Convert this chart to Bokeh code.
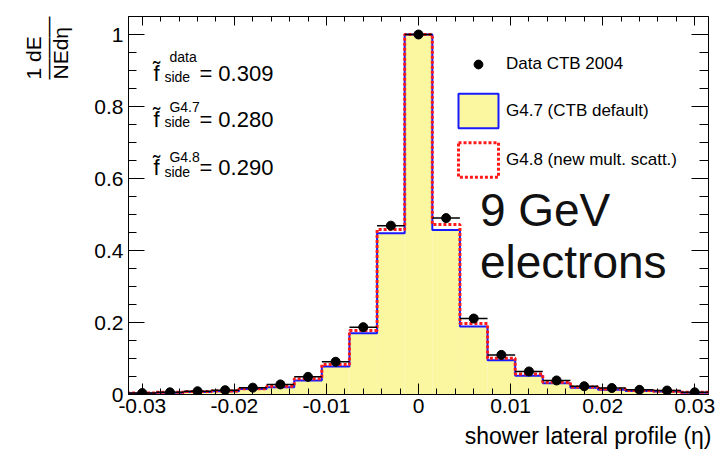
import numpy as np
from bokeh.plotting import figure
from bokeh.models import (Range1d, LinearAxis, FixedTicker, Label, Legend,
                          LegendItem, Title)
from bokeh.embed import file_html
from bokeh.resources import INLINE

# ---------------- data ----------------
bin_centers = [-0.030, -0.027, -0.024, -0.021, -0.018, -0.015, -0.012, -0.009,
               -0.006, -0.003, 0.000, 0.003, 0.006, 0.009, 0.012, 0.015,
               0.018, 0.021, 0.024, 0.027, 0.030]
bin_width = 0.003
data_ctb = [0.004, 0.006, 0.009, 0.012, 0.019, 0.028, 0.049, 0.091, 0.187,
            0.469, 1.000, 0.490, 0.211, 0.110, 0.064, 0.039, 0.023, 0.018,
            0.013, 0.011, 0.006]
g4_7 = [0.003, 0.005, 0.007, 0.009, 0.015, 0.020, 0.039, 0.078, 0.170,
        0.448, 1.000, 0.457, 0.189, 0.095, 0.052, 0.031, 0.019, 0.013,
        0.010, 0.008, 0.005]
g4_8 = [0.004, 0.006, 0.008, 0.010, 0.016, 0.023, 0.044, 0.083, 0.178,
        0.458, 1.000, 0.472, 0.197, 0.101, 0.057, 0.034, 0.021, 0.015,
        0.011, 0.009, 0.006]
x_ticks = [-0.03, -0.02, -0.01, 0.0, 0.01, 0.02, 0.03]
x_tick_labels = ["-0.03", "-0.02", "-0.01", "0", "0.01", "0.02", "0.03"]
y_ticks = [0.0, 0.2, 0.4, 0.6, 0.8, 1.0]
y_tick_labels = ["0", "0.2", "0.4", "0.6", "0.8", "1"]
f_side_tags = ["data", "G4.7", "G4.8"]
f_side_values = [0.309, 0.280, 0.290]
legend_labels = ["Data CTB 2004", "G4.7 (CTB default)", "G4.8 (new mult. scatt.)"]

# ---------------- geometry helpers ----------------
W, H = 718, 455
X0, X1 = -0.0315, 0.0315
Y0, Y1 = 0.0, 1.05
FL, FR, FT, FB = 127, 708, 16, 394   # frame in canvas px


def dx(px):
    return X0 + (px - FL) / (FR - FL) * (X1 - X0)


def dy(py):
    return Y0 + (FB - py) / (FB - FT) * (Y1 - Y0)


def base(py, fs):
    # baseline correction for Bokeh's label text placement
    return dy(py - 0.34 * fs)


centers = np.array(bin_centers)
edges = np.append(centers - bin_width / 2, centers[-1] + bin_width / 2)


def step_xy(vals):
    xs, ys = [edges[0]], [0.0]
    for i, v in enumerate(vals):
        xs += [edges[i], edges[i + 1]]
        ys += [v, v]
    xs.append(edges[-1])
    ys.append(0.0)
    return xs, ys


FONT = "Liberation Sans"
YELLOW = "#fbf7a1"
BLUE = "#1a1aff"
RED = "#ff1a1a"

p = figure(width=W, height=H, x_range=Range1d(X0, X1), y_range=Range1d(Y0, Y1),
           output_backend="svg", toolbar_location=None,
           min_border_left=FL, min_border_right=W - FR, min_border_top=FT,
           min_border_bottom=H - FB)
p.xgrid.visible = False
p.ygrid.visible = False
p.outline_line_color = "black"
p.outline_line_width = 1
p.background_fill_color = "white"
p.border_fill_color = "white"

bax = p.below[0]
lax = p.left[0]

x_minor = list(np.round(np.arange(-0.030, 0.0301, 0.002), 4))
y_minor = list(np.round(np.arange(0.0, 1.051, 0.05), 3))

for ax, ticks, minors, mj, mn in [(bax, x_ticks, x_minor, 11, 6),
                                  (lax, y_ticks, y_minor, 16, 8)]:
    ax.ticker = FixedTicker(ticks=ticks, minor_ticks=minors)
    ax.major_tick_in = mj
    ax.major_tick_out = 0
    ax.minor_tick_in = mn
    ax.minor_tick_out = 0
    ax.axis_line_color = "black"
    ax.major_tick_line_color = "black"
    ax.minor_tick_line_color = "black"
    ax.major_label_text_font = FONT
    ax.major_label_text_color = "black"
    ax.major_label_text_font_size = "21px"

bax.major_label_overrides = {t: s for t, s in zip(x_ticks, x_tick_labels)}
lax.major_label_overrides = {t: s for t, s in zip(y_ticks, y_tick_labels)}
bax.major_label_standoff = 4
lax.major_label_standoff = 5

# tick marks on the top and right sides (no labels)
for side, tick_list, length in [("above", x_minor, 5), ("above", x_ticks, 9),
                                ("right", y_minor, 9), ("right", y_ticks, 17)]:
    ax = LinearAxis(ticker=FixedTicker(ticks=[], minor_ticks=tick_list))
    ax.minor_tick_in = length
    ax.minor_tick_out = 0
    ax.minor_tick_line_color = "black"
    ax.major_tick_line_color = None
    ax.axis_line_color = None
    ax.major_label_standoff = 0
    p.add_layout(ax, side)

# ---------------- histograms ----------------
p.quad(left=edges[:-1], right=edges[1:], bottom=0, top=g4_7,
       fill_color=YELLOW, line_color=None)
xs47, ys47 = step_xy(g4_7)
p.line(xs47, ys47, line_color=BLUE, line_width=2)
xs48, ys48 = step_xy(g4_8)
p.line(xs48, ys48, line_color=RED, line_width=3, line_dash="3 2")

# data points with bin-width error bars
p.segment(x0=centers - bin_width / 2, x1=centers + bin_width / 2,
          y0=data_ctb, y1=data_ctb, line_color="black", line_width=1.5)
r_pts = p.scatter(centers, data_ctb, size=9, color="black")

# legend proxies (hidden renderers carrying the same histograms)
r_leg47 = p.quad(left=edges[:-1], right=edges[1:], bottom=0, top=g4_7,
                 fill_color=YELLOW, line_color=BLUE, line_width=2, visible=False)
r_leg48 = p.quad(left=edges[:-1], right=edges[1:], bottom=0, top=g4_8,
                 fill_alpha=0, line_color=RED, line_width=3, line_dash="3 2",
                 visible=False)

leg_common = dict(label_standoff=3, padding=0, margin=0, spacing=6,
                  border_line_alpha=0, background_fill_alpha=0,
                  label_text_font=FONT, label_text_font_size="17px",
                  label_text_color="black", glyph_width=50)
leg_a = Legend(items=[LegendItem(label=legend_labels[0], renderers=[r_pts])],
               location=(325, 319), glyph_height=22, **leg_common)
leg_b = Legend(items=[LegendItem(label=legend_labels[1], renderers=[r_leg47]),
                      LegendItem(label=legend_labels[2], renderers=[r_leg48])],
               location=(325, 213), glyph_height=43, **leg_common)
p.add_layout(leg_a)
p.add_layout(leg_b)

# ---------------- texts outside the frame ----------------
ytitle = Title(text="1 dE\n\u2014\u2014\u2014\nNEd\u03b7", align="right", offset=0,
               text_font=FONT, text_font_size="21px", text_font_style="normal",
               text_color="black", text_line_height=0.6, standoff=38)
p.add_layout(ytitle, "left")

xtitle = Title(text="shower lateral profile (\u03b7)", align="right", offset=-3,
               text_font=FONT, text_font_size="23px", text_font_style="normal",
               text_color="black", standoff=11)
p.add_layout(xtitle, "below")

# ---------------- texts inside the frame ----------------
row_f_base = [80, 126, 174]
row_sup_base = [61, 111, 161]
row_sub_base = [81, 126.5, 176]
for tag, val, fb, sb, bb in zip(f_side_tags, f_side_values, row_f_base,
                                row_sup_base, row_sub_base):
    p.add_layout(Label(x=dx(152), y=base(fb, 22), text="f\u0303", text_font=FONT,
                       text_font_size="22px", text_baseline="alphabetic",
                       text_color="black"))
    p.add_layout(Label(x=dx(168), y=base(sb, 14), text=tag, text_font=FONT,
                       text_font_size="14px", text_baseline="alphabetic",
                       text_color="black"))
    p.add_layout(Label(x=dx(163), y=base(bb, 14), text="side", text_font=FONT,
                       text_font_size="14px", text_baseline="alphabetic",
                       text_color="black"))
    p.add_layout(Label(x=dx(198), y=base(fb, 22), text=f"= {val:.3f}",
                       text_font=FONT, text_font_size="22px",
                       text_baseline="alphabetic", text_color="black"))

p.add_layout(Label(x=dx(479), y=base(225, 46), text="9 GeV", text_font=FONT,
                   text_font_size="46px", text_baseline="alphabetic",
                   text_color="#111111"))
p.add_layout(Label(x=dx(479), y=base(277, 46), text="electrons", text_font=FONT,
                   text_font_size="46px", text_baseline="alphabetic",
                   text_color="#111111"))

open("out.html", "w").write(file_html(p, INLINE))
